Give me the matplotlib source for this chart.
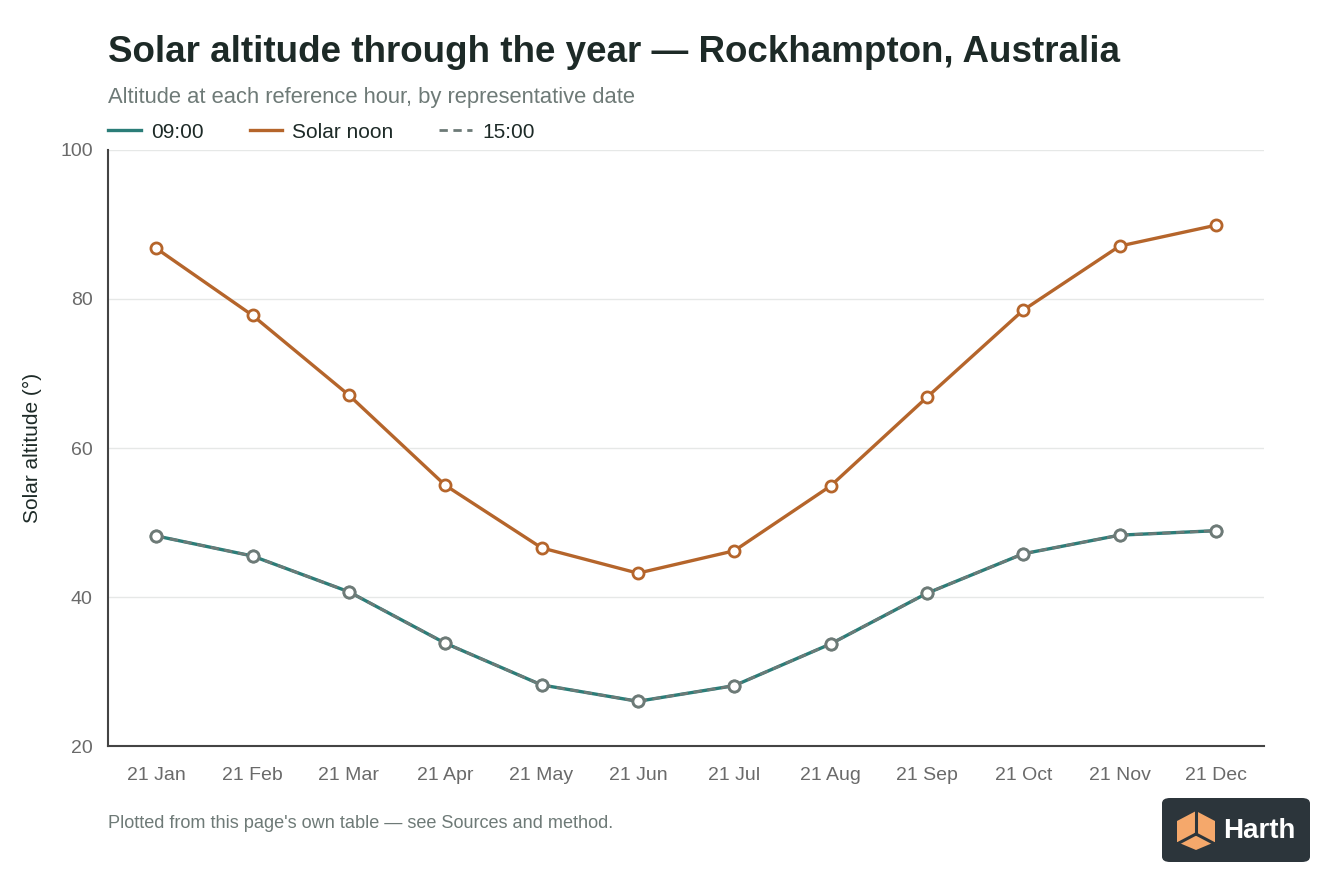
import matplotlib
matplotlib.use("Agg")
import matplotlib.pyplot as plt
from matplotlib.patches import FancyBboxPatch, Polygon
from matplotlib.lines import Line2D

plt.rcParams['font.family'] = ['Liberation Sans', 'DejaVu Sans']

dates = ["21 Jan", "21 Feb", "21 Mar", "21 Apr", "21 May", "21 Jun",
         "21 Jul", "21 Aug", "21 Sep", "21 Oct", "21 Nov", "21 Dec"]
alt_0900 = [48.2, 45.5, 40.7, 33.8, 28.2, 26.0, 28.1, 33.7, 40.5, 45.8, 48.3, 48.9]
alt_noon = [86.8, 77.8, 67.1, 55.0, 46.6, 43.2, 46.2, 54.9, 66.8, 78.5, 87.1, 89.9]
alt_1500 = [48.2, 45.5, 40.7, 33.8, 28.2, 26.0, 28.1, 33.7, 40.5, 45.8, 48.3, 48.9]
y_ticks = [20, 40, 60, 80, 100]

TEAL = "#2b7d78"
ORANGE = "#b5652b"
GREY = "#6d7a77"
TXT = "#1d2a27"
SUB = "#6e7a77"
TICK = "#6a6a6a"

fig = plt.figure(figsize=(13.44, 8.96), dpi=100)
ax = fig.add_axes([0.0804, 0.1674, 0.8601, 0.6652])

x = list(range(len(dates)))
ax.plot(x, alt_0900, color=TEAL, lw=2.4, marker='o', ms=8, mfc='white',
        mec=GREY, mew=2, zorder=3)
ax.plot(x, alt_noon, color=ORANGE, lw=2.4, marker='o', ms=8, mfc='white',
        mec=ORANGE, mew=2, zorder=3)
ax.plot(x, alt_1500, color=GREY, lw=2.0, ls=(0, (3, 2)), marker='o', ms=8,
        mfc='white', mec=GREY, mew=2, zorder=4)

ax.set_xlim(-0.5, 11.5)
ax.set_ylim(20, 100)
ax.set_yticks(y_ticks)
ax.set_xticks(x)
ax.set_xticklabels(dates)
ax.grid(axis='y', color='#e6e8e7', lw=1)
ax.set_axisbelow(True)
for s in ['top', 'right']:
    ax.spines[s].set_visible(False)
for s in ['left', 'bottom']:
    ax.spines[s].set_color('#444444')
    ax.spines[s].set_linewidth(1.5)
ax.tick_params(axis='both', length=0, labelsize=14, colors=TICK)
ax.tick_params(axis='x', pad=15)
ax.tick_params(axis='y', pad=11)
ax.set_ylabel("Solar altitude (°)", fontsize=15, color=TXT, labelpad=13)

fig.text(108/1344, 1 - 52/896, "Solar altitude through the year — Rockhampton, Australia",
         fontsize=26.5, fontweight='bold', color=TXT, va='center', ha='left')
fig.text(108/1344, 1 - 97/896, "Altitude at each reference hour, by representative date",
         fontsize=15.8, color=SUB, va='center', ha='left')

handles = [Line2D([], [], color=TEAL, lw=2.4),
           Line2D([], [], color=ORANGE, lw=2.4),
           Line2D([], [], color=GREY, lw=2.0, ls=(0, (3, 2)))]
fig.legend(handles, ["09:00", "Solar noon", "15:00"], loc='center left',
           bbox_to_anchor=(100/1344, 1 - 132/896), ncol=3, frameon=False,
           fontsize=15, handlelength=1.55, columnspacing=2.2, handletextpad=0.5,
           labelcolor=TXT, borderaxespad=0, borderpad=0.4)

fig.text(108/1344, 1 - 823/896, "Plotted from this page's own table — see Sources and method.",
         fontsize=13.1, color=SUB, va='center', ha='left')

# logo badge
W, H = 1344, 896
bx0, by0, bx1, by1 = 1162, 798, 1310, 862
badge = FancyBboxPatch((bx0/W, 1 - by1/H), (bx1-bx0)/W, (by1-by0)/H,
                       boxstyle="round,pad=0,rounding_size=0.006",
                       transform=fig.transFigure, fc="#2c353b", ec="none")
fig.patches.append(badge)
def P(px, py):
    return (px/W, 1 - py/H)
cx, cy = 1196, 830
cube = [P(cx-19, cy-9), P(cx, cy-19), P(cx+19, cy-9), P(cx+19, cy+12),
        P(cx, cy+20), P(cx-19, cy+12)]
fig.patches.append(Polygon(cube, closed=True, transform=fig.transFigure,
                           fc="#f5a86b", ec="none"))
for (a, b) in [((cx, cy-19), (cx, cy+4)), ((cx, cy+4), (cx-19, cy+14)),
               ((cx, cy+4), (cx+19, cy+14))]:
    fig.lines.append(Line2D([a[0]/W, b[0]/W], [1-a[1]/H, 1-b[1]/H],
                            transform=fig.transFigure, color="#2c353b", lw=2.2))
fig.text(1259/W, 1 - 831/H, "Harth", fontsize=20, fontweight='bold',
         color='white', ha='center', va='center')

fig.savefig("out.png", dpi=100, facecolor='white')
